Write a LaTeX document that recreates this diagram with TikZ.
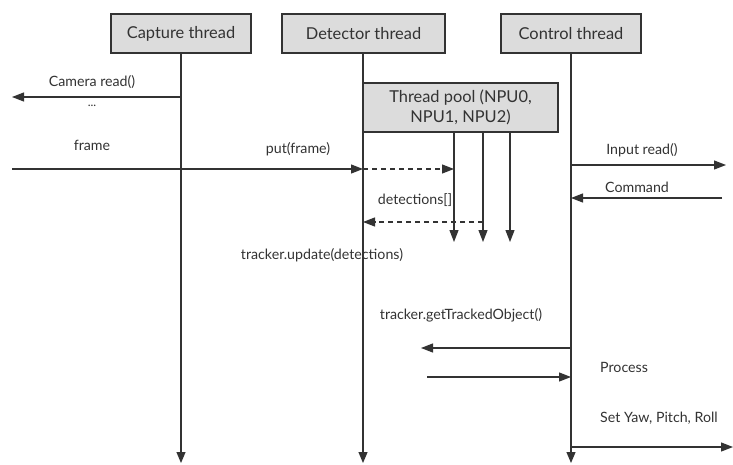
\documentclass[tikz,border=0pt]{standalone}
\usepackage{fontspec}
\setmainfont{Lato}
\usetikzlibrary{arrows.meta}
\definecolor{ink}{HTML}{333333}
\definecolor{boxfill}{HTML}{DCDCDC}

\begin{document}
\begin{tikzpicture}[x=1pt,y=-1pt,
  thread/.style={draw=ink, fill=boxfill, line width=1.2pt, minimum height=39pt,
    inner sep=0pt, align=center, text=ink, font=\fontsize{16.4}{20}\selectfont},
  lifeline/.style={draw=ink, line width=1.2pt, -{Triangle[length=11pt,width=9pt]}},
  msg/.style={draw=ink, line width=1.2pt, -{Triangle[length=12pt,width=9pt]}},
  dmsg/.style={msg, dash pattern=on 5pt off 4pt},
  lbl/.style={text=ink, inner sep=0pt, font=\fontsize{14.2}{17}\selectfont}]

\useasboundingbox (0,0) rectangle (733,465);
\fill[white] (0,0) rectangle (733,465);

% thread headers
\node[thread, minimum width=140pt] (cap) at (181,33.5) {Capture thread};
\node[thread, minimum width=163pt] (det) at (363.5,33.5) {Detector thread};
\node[thread, minimum width=140pt] (ctl) at (571,33.5) {Control thread};

% lifeline ends
\coordinate (capEnd) at (181,463);
\coordinate (detEnd) at (363,463);
\coordinate (ctlEnd) at (571,463);

\draw[lifeline] (cap.south) -- (capEnd);
\draw[lifeline] (det.south -| detEnd) -- (detEnd);
\draw[lifeline] (ctl.south) -- (ctlEnd);

% worker pool
\node[thread, minimum width=195pt, minimum height=49pt] (pool) at (460.5,107.5)
  {Thread pool (NPU0,\\NPU1, NPU2)};
\coordinate (w0) at (454,242);
\coordinate (w1) at (483,242);
\coordinate (w2) at (510,242);
\foreach \w in {w0,w1,w2}
  \draw[msg] (pool.south -| \w) -- (\w);

% capture side
\coordinate (camL) at (12,97);
\draw[msg] (camL -| capEnd) -- (camL);
\node[lbl] (camLbl) at (92,82) {Camera read()};
\node[lbl, font=\fontsize{12}{12}\selectfont] (dots) at (92,106) {...};

\coordinate (frameL) at (12,169);
\draw[msg] (frameL) -- (frameL -| detEnd);
\node[lbl] (frameLbl) at (92,145) {frame};
\node[lbl] (putLbl) at (298,149) {put(frame)};

% detector and pool
\draw[dmsg] (frameL -| detEnd) -- (frameL -| w0);
\coordinate (detBack) at (483,222);
\draw[dmsg] (detBack) -- (detBack -| detEnd);
\node[lbl] (detsLbl) at (415,200) {detections[]};
\node[lbl] (updLbl) at (322,255) {tracker.update(detections)};

% control side
\coordinate (inR) at (726,165);
\draw[msg] (inR -| ctlEnd) -- (inR);
\node[lbl] (inLbl) at (642,150) {Input read()};

\coordinate (cmdR) at (722,198);
\draw[msg] (cmdR) -- (cmdR -| ctlEnd);
\node[lbl] (cmdLbl) at (637,187) {Command};

\node[lbl] (getLbl) at (461,315) {tracker.getTrackedObject()};
\coordinate (getL) at (421,348);
\draw[msg] (getL -| ctlEnd) -- (getL);

\coordinate (retL) at (427,377);
\draw[msg] (retL) -- (retL -| ctlEnd);
\node[lbl, anchor=west] (procLbl) at (600,367) {Process};

\node[lbl, anchor=west] (setLbl) at (600,418) {Set Yaw, Pitch, Roll};
\coordinate (setR) at (733,447);
\draw[msg] (setR -| ctlEnd) -- (setR);
\end{tikzpicture}
\end{document}
